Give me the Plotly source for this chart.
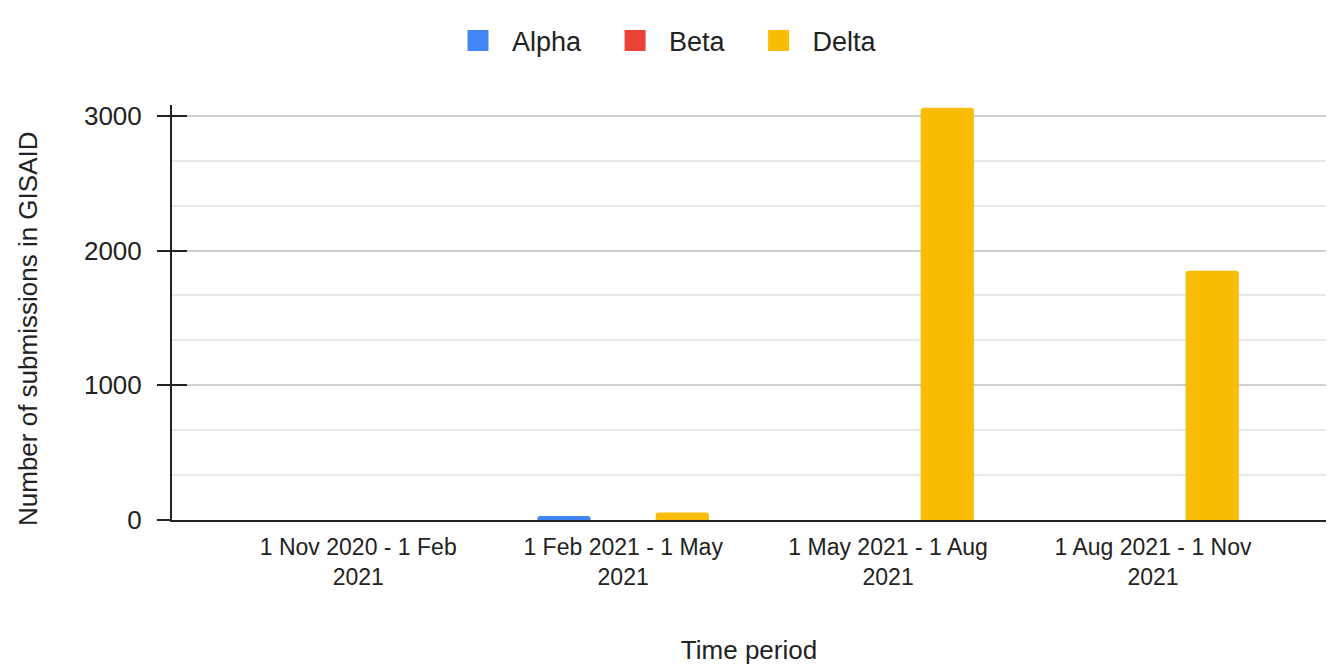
import plotly.graph_objects as go

categories = ["1 Nov 2020 - 1 Feb<br>2021", "1 Feb 2021 - 1 May<br>2021",
              "1 May 2021 - 1 Aug<br>2021", "1 Aug 2021 - 1 Nov<br>2021"]
alpha = [0, 30, 0, 0]
beta = [0, 0, 0, 0]
delta = [0, 55, 3060, 1850]
y_ticks = [0, 1000, 2000, 3000]
series = [("Alpha", alpha, "#4285F4"), ("Beta", beta, "#EA4335"), ("Delta", delta, "#FBBC04")]

FONT = "Liberation Sans, Arial, sans-serif"
TXT = "#222222"
NB = "\u00a0"

fig = go.Figure()
for name, vals, col in series:
    fig.add_trace(go.Bar(x=categories, y=vals, name=name, showlegend=False,
                         marker=dict(color=col, line=dict(width=0))))
# legend entries with larger square swatches
for i, (name, vals, col) in enumerate(series):
    label = name + (NB * 2 if i < len(series) - 1 else "")
    fig.add_trace(go.Scatter(x=[None], y=[None], name=label, mode="markers",
                             marker=dict(symbol="square", size=24, color=col,
                                         line=dict(width=10, color=col)),
                             hoverinfo="skip"))

# helper trace for inner half of crossing ticks
fig.add_trace(go.Scatter(x=[categories[0]], y=[0], yaxis="y2", mode="markers",
                         marker=dict(opacity=0), showlegend=False, hoverinfo="skip"))

fig.update_layout(
    width=1331, height=666,
    margin=dict(l=172, r=5, t=105, b=146),
    paper_bgcolor="white", plot_bgcolor="white",
    barmode="group", bargap=0.33, bargroupgap=0.1, barcornerradius=3,
    font=dict(family=FONT, color=TXT),
    legend=dict(orientation="h", x=663 / 1331, xanchor="center", xref="container",
                y=1 - 41 / 666, yanchor="middle", yref="container",
                font=dict(size=27, color=TXT),
                itemsizing="trace", traceorder="normal", itemwidth=58),
    xaxis=dict(range=[-0.703, 3.653], showline=True, linecolor=TXT, linewidth=2,
               showgrid=False, ticks="", tickfont=dict(size=23, color=TXT),
               ticklabelstandoff=5,
               title=dict(text="Time period", font=dict(size=26, color=TXT), standoff=52)),
    yaxis=dict(range=[0, 3080], tickvals=y_ticks, ticktext=[str(v) for v in y_ticks],
               showline=True, linecolor=TXT, linewidth=2,
               ticks="outside", ticklen=13, tickwidth=2, tickcolor=TXT,
               ticklabelstandoff=10,
               tickfont=dict(size=26, color=TXT),
               showgrid=True, gridcolor="#d0d0d0", gridwidth=2, zeroline=False,
               minor=dict(dtick=1000 / 3, tick0=0, showgrid=True, gridcolor="#e8e8e8", gridwidth=2)),
    yaxis2=dict(range=[0, 3080], overlaying="y", side="left", tickvals=y_ticks,
                showticklabels=False, ticks="inside", ticklen=15, tickwidth=2, tickcolor=TXT,
                showgrid=False, zeroline=False, showline=False),
    annotations=[dict(text="Number of submissions in GISAID", textangle=-90,
                      xref="paper", yref="paper", x=(28 - 172) / 1154, y=(520 - 329) / 415,
                      xanchor="center", yanchor="middle", showarrow=False,
                      font=dict(size=26, color=TXT))],
)
fig.write_html("out.html")
